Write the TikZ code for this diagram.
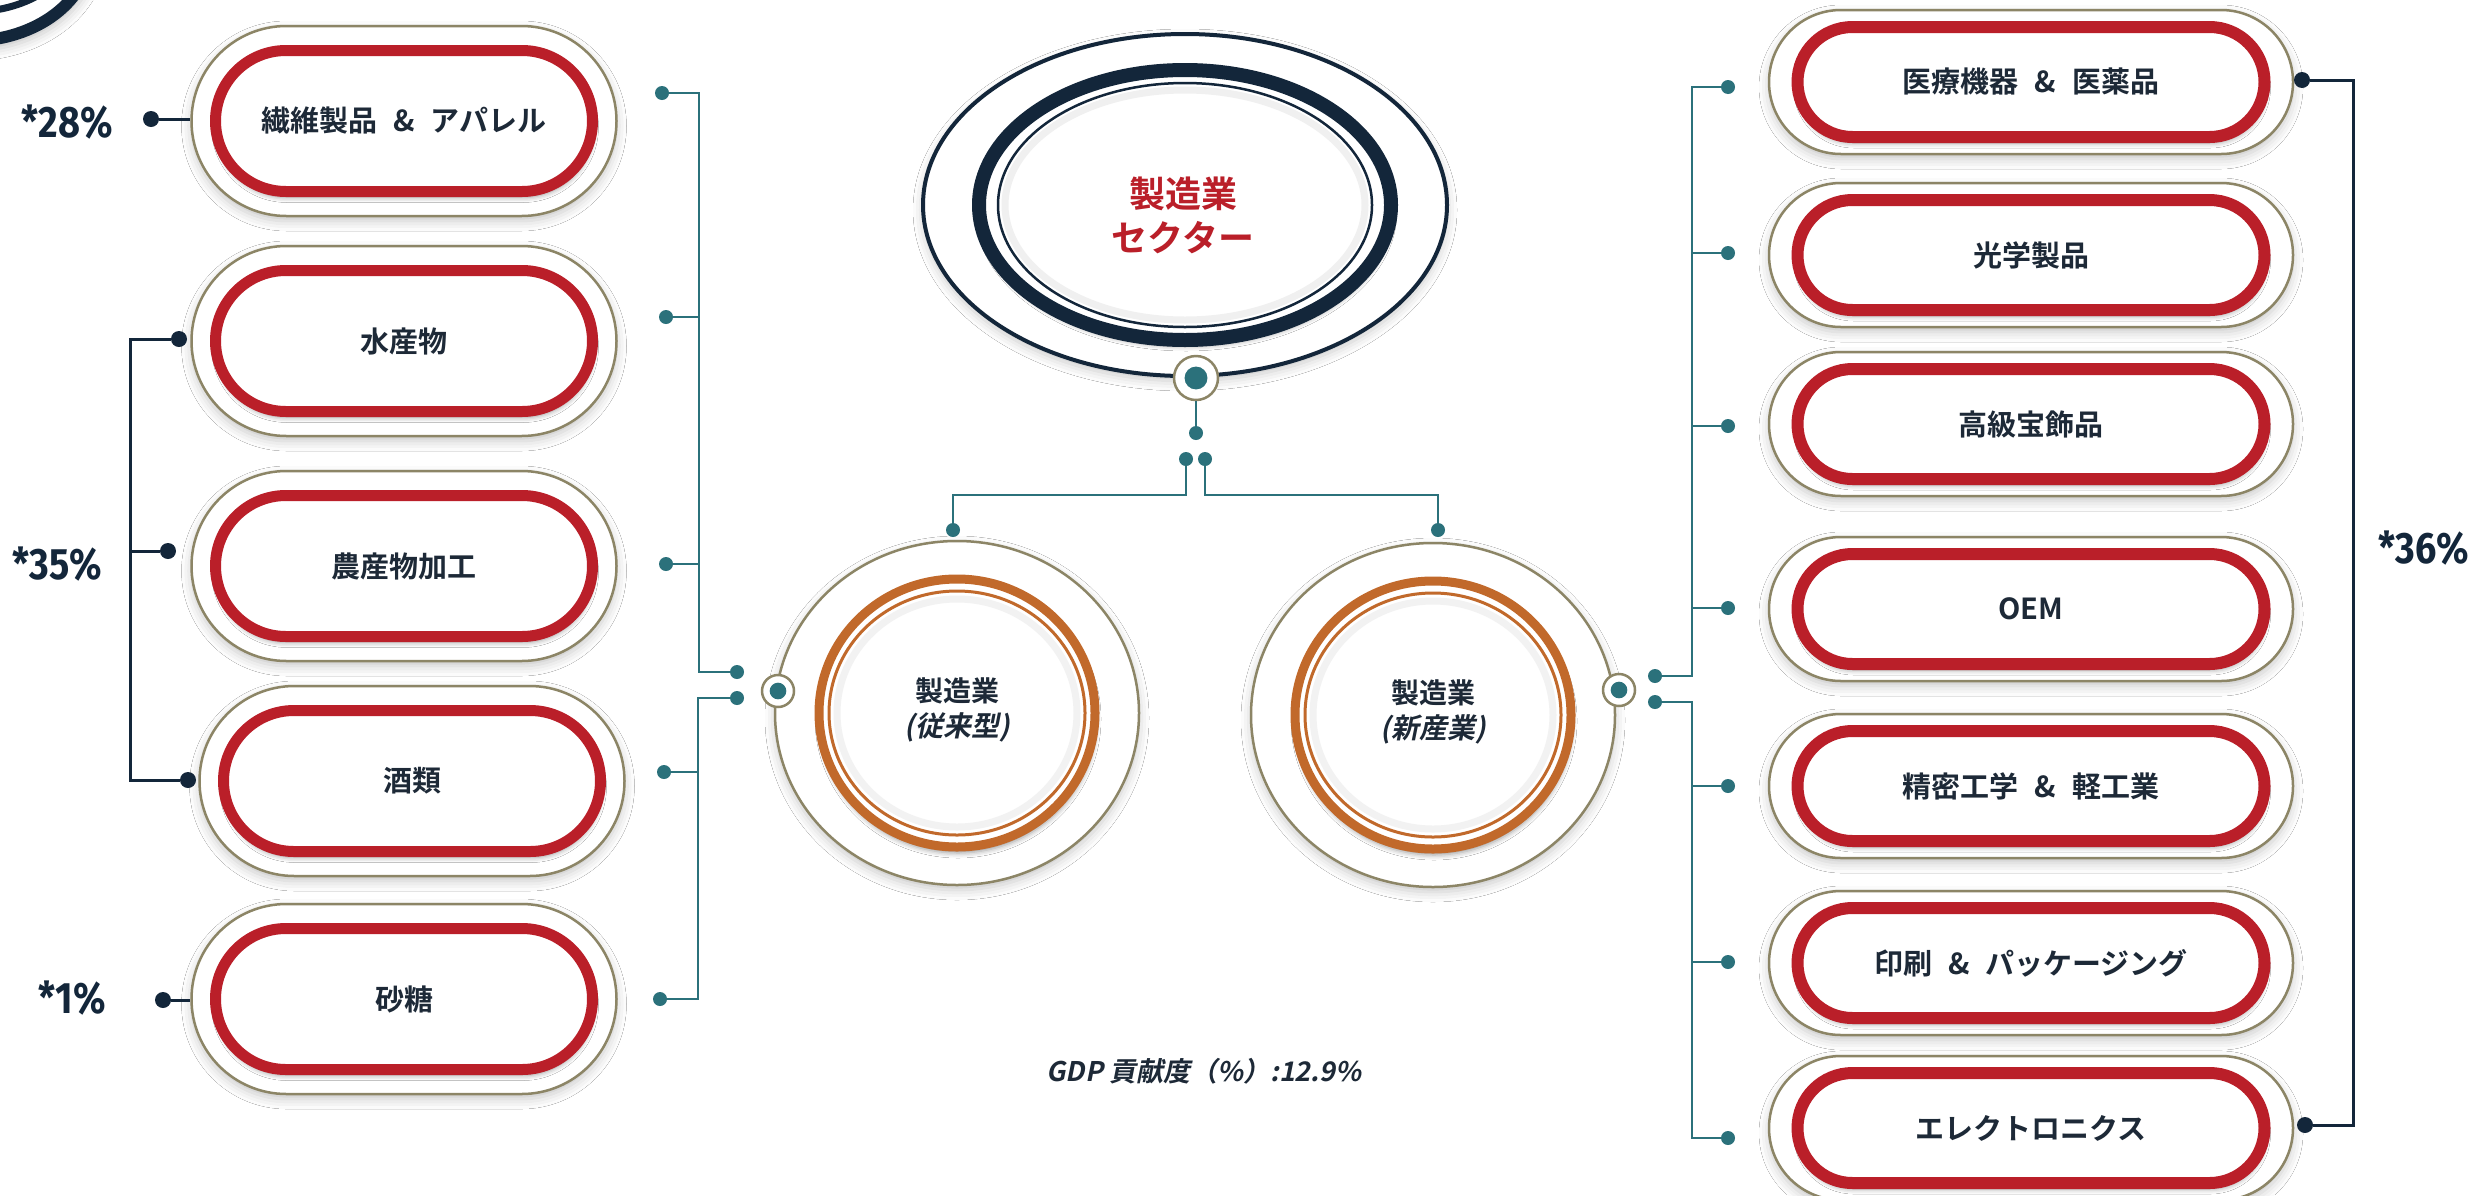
\documentclass[tikz,border=0pt]{standalone}
\usepackage{fontspec}
\setmainfont{Noto Sans CJK JP}[BoldFont=* Bold]
\newfontfamily\slantjp{Noto Sans CJK JP}[BoldFont=* Bold, FakeSlant=0.2]
\newfontfamily\pctfont{Fira Sans}[FakeStretch=0.86]
\usetikzlibrary{shapes.geometric}
\usetikzlibrary{shapes.misc}
\usetikzlibrary{shadows.blur}

\definecolor{navy}{HTML}{13263A}
\definecolor{tealc}{HTML}{2B717B}
\definecolor{redc}{HTML}{BA1F29}
\definecolor{orangec}{HTML}{C1692B}
\definecolor{khaki}{HTML}{8C8566}
\definecolor{inkc}{HTML}{1D2937}
\newcommand\andsep{\hspace{.55em}\&\hspace{.55em}}

\begin{document}
\begin{tikzpicture}[x=1pt, y=-1pt,
  soft shadow/.style={blur shadow={shadow xshift=0pt, shadow yshift=-5pt, shadow blur radius=10pt, shadow opacity=22}},
  pill shadow/.style={blur shadow={shadow xshift=1pt, shadow yshift=-6pt, shadow blur radius=5pt, shadow opacity=40}},
  outer pill/.style={rounded rectangle, draw=khaki, line width=2.5pt, fill=white, inner sep=0pt, soft shadow},
  red pill/.style={rounded rectangle, draw=redc, fill=white, inner sep=0pt, text=inkc,
    font=\fontsize{29}{34}\selectfont\bfseries, pill shadow},
  left frame/.style={outer pill, minimum width=425pt, minimum height=190pt},
  left pill/.style={red pill, line width=11pt, minimum width=377pt, minimum height=141pt},
  right frame/.style={outer pill, minimum width=524pt, minimum height=144pt},
  right pill/.style={red pill, line width=12pt, minimum width=467pt, minimum height=110pt},
  teal dot/.style={circle, fill=tealc, inner sep=0pt, minimum size=14pt},
  dark dot/.style={circle, fill=navy, inner sep=0pt, minimum size=16pt},
  teal line/.style={draw=tealc, line width=2.5pt},
  dark line/.style={draw=navy, line width=3pt},
  ring/.style={circle, draw=khaki, line width=2.5pt, fill=white, inner sep=0pt, minimum size=2*#1*1pt,
    path picture={\fill[tealc] (path picture bounding box.center) circle (#1*0.52pt);}},
  big circle/.style={ellipse, draw=khaki, line width=2.5pt, fill=white, inner sep=0pt,
    minimum width=364pt, minimum height=344pt, soft shadow},
  circle text/.style={align=center, text=inkc, font=\fontsize{28}{35}\selectfont\bfseries},
  pct label/.style={text=navy, font=\pctfont\fontsize{44}{44}\selectfont\bfseries}]

\useasboundingbox (0,0) rectangle (2479,1195);
\fill[white] (0,0) rectangle (2479,1195);

% corner piece
\begin{scope}
  \clip (0,0) rectangle (140,90);
  \fill[white, soft shadow] (-30,-50) ellipse [x radius=126pt, y radius=96pt];
  \draw[navy, line width=12pt] (-30,-50) ellipse [x radius=120pt, y radius=91pt];
  \draw[navy, line width=7pt] (-30,-50) ellipse [x radius=100pt, y radius=62pt];
\end{scope}

% sector title
\node[ellipse, draw=navy, line width=4pt, fill=white, inner sep=0pt,
  minimum width=524pt, minimum height=342pt, soft shadow] (title) at (1185,205) {};
\draw[navy, line width=14pt, fill=white, pill shadow] (title.center) ellipse [x radius=206pt, y radius=135pt];
\draw[navy, line width=2.5pt] (title.center) ellipse [x radius=187pt, y radius=122pt];
\draw[gray!12, line width=7pt] (title.center) ellipse [x radius=180pt, y radius=115pt];
\node[align=center, text=redc, font=\fontsize{36}{44}\selectfont\bfseries] (sector) at (1183,215) {製造業\\セクター};
\node[ring=22] (secring) at ([xshift=11pt]title.south) {};

% two sub sectors
\foreach \n/\xx/\yy/\lbl in {old/957/713/従来型, new/1433/715/新産業} {
  \node[big circle] (\n) at (\xx,\yy) {};
  \draw[orangec, line width=9pt, fill=white, pill shadow] (\n.center) ellipse [x radius=138pt, y radius=134pt];
  \draw[orangec, line width=3pt] (\n.center) ellipse [x radius=128pt, y radius=122pt];
  \draw[gray!10, line width=7pt] (\n.center) ellipse [x radius=120pt, y radius=114pt];
  \node[circle text] (\n txt) at ([yshift=3pt]\n.center) {製造業\\{\slantjp\bfseries (\lbl)}};
}
\node[ring=16] (oldring) at (778,691) {};
\node[ring=16] (newring) at (1619,690) {};

% left pills
\foreach \txt/\yy [count=\i, evaluate={\xx=(\i==4) ? 412 : 404;}] in
  {繊維製品\andsep アパレル/121, 水産物/341, 農産物加工/566, 酒類/781, 砂糖/999} {
  \node[left frame] (lo\i) at (\xx,\yy) {};
  \node[left pill] (l\i) at (lo\i) {\txt};
}

% right pills
\foreach \txt/\yy [count=\i] in
  {医療機器\andsep 医薬品/82, 光学製品/255, 高級宝飾品/424, OEM/609,
   精密工学\andsep 軽工業/786, 印刷\andsep パッケージング/963, エレクトロニクス/1128} {
  \node[right frame] (ro\i) at (2031,\yy) {};
  \node[right pill] (r\i) at (ro\i) {\txt};
}

% teal tree
\node[teal dot] (sd0) at (1196,433) {};
\node[teal dot] (sdl) at (1186,459) {};
\node[teal dot] (sdr) at (1205,459) {};
\node[teal dot] (oldtop) at (953,530) {};
\node[teal dot] (newtop) at (1438,530) {};
\draw[teal line] (secring) -- (sd0);
\draw[teal line] (sdl) -- ++(0,36) -| (oldtop);
\draw[teal line] (sdr) -- ++(0,36) -| (newtop);

\foreach \xx/\yy [count=\i] in {662/93, 666/317, 666/564, 664/772, 660/999}
  \node[teal dot] (la\i) at (\xx,\yy) {};
\node[teal dot] (lj1) at (737,672) {};
\node[teal dot] (lj2) at (737,698) {};
\coordinate (lb1) at (699,672);
\coordinate (lb2) at (698,999);
\draw[teal line] (la1) -| (lb1) -- (lj1);
\foreach \i in {2,3}
  \draw[teal line] (la\i) -- (la\i -| lb1);
\draw[teal line] (lj2) -| (lb2) -- (la5);
\draw[teal line] (la4) -- (la4 -| lb2);

\foreach \yy [count=\i] in {87, 253, 426, 608, 786, 962, 1138}
  \node[teal dot] (ra\i) at (1728,\yy) {};
\node[teal dot] (rj1) at (1655,676) {};
\node[teal dot] (rj2) at (1655,702) {};
\coordinate (rb1) at (1692,676);
\coordinate (rb2) at (1692,1138);
\draw[teal line] (ra1) -| (rb1) -- (rj1);
\foreach \i in {2,3,4}
  \draw[teal line] (ra\i) -- (ra\i -| rb1);
\draw[teal line] (rj2) -| (rb2) -- (ra7);
\foreach \i in {5,6}
  \draw[teal line] (ra\i) -- (ra\i -| rb2);

% shares
\node[dark dot] (bd1) at (151,119) {};
\node[dark dot] (bd2) at (179,339) {};
\node[dark dot] (bd3) at (168,551) {};
\node[dark dot] (bd4) at (188,780) {};
\node[dark dot] (bd5) at (163,1000) {};
\node[dark dot] (rd1) at (2302,80) {};
\node[dark dot] (rd7) at (2305,1125) {};
\coordinate (db) at (130,780);
\coordinate (rdb) at (2353,1125);
\draw[dark line] (bd1) -- (bd1 -| lo1.west);
\draw[dark line] (bd2) -| (db) -- (bd4);
\draw[dark line] (bd3) -- (bd3 -| db);
\draw[dark line] (bd5) -- (bd5 -| lo5.west);
\draw[dark line] (rd1) -| (rdb) -- (rd7);

\node[pct label] (p28) at (67,122) {*28\%};
\node[pct label] (p35) at (57,564) {*35\%};
\node[pct label] (p1) at (72,998) {*1\%};
\node[pct label] (p36) at (2424,548) {*36\%};

\node[text=inkc, font=\slantjp\fontsize{27}{30}\selectfont\bfseries] (gdp) at (1204,1071) {GDP 貢献度（\%）:12.9\%};
\end{tikzpicture}
\end{document}
